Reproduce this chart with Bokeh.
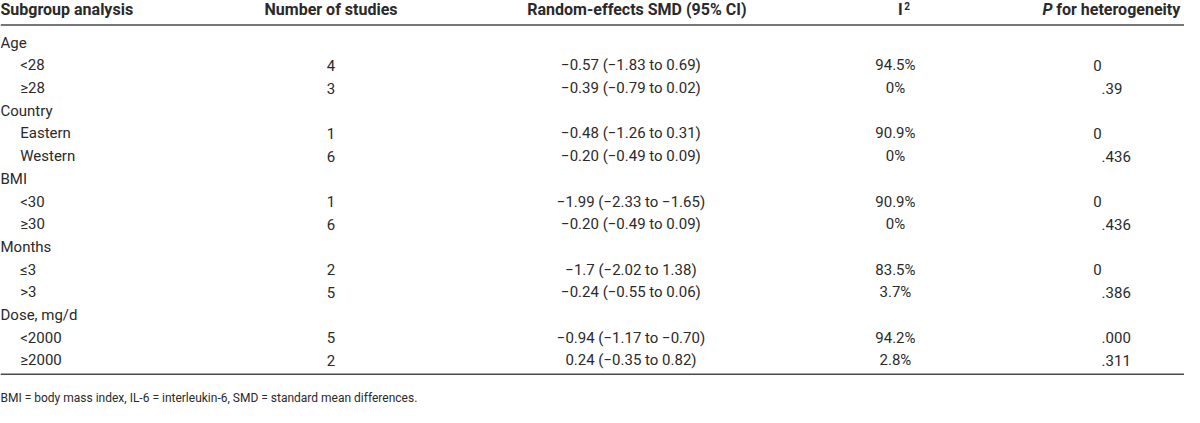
from bokeh.plotting import figure
from bokeh.models import ColumnDataSource, Range1d
from bokeh.core.properties import value
from bokeh.embed import file_html
from bokeh.resources import INLINE

# ---------------- data ----------------
subgroups = ["Age", "<28", "≥28", "Country", "Eastern", "Western", "BMI", "<30", "≥30",
             "Months", "≤3", ">3", "Dose, mg/d", "<2000", "≥2000"]
levels = [0, 1, 1, 0, 1, 1, 0, 1, 1, 0, 1, 1, 0, 1, 1]
n_studies = ["", "4", "3", "", "1", "6", "", "1", "6", "", "2", "5", "", "5", "2"]
smd_ci = ["", "−0.57 (−1.83 to 0.69)", "−0.39 (−0.79 to 0.02)", "",
          "−0.48 (−1.26 to 0.31)", "−0.20 (−0.49 to 0.09)", "",
          "−1.99 (−2.33 to −1.65)", "−0.20 (−0.49 to 0.09)", "",
          "−1.7 (−2.02 to 1.38)", "−0.24 (−0.55 to 0.06)", "",
          "−0.94 (−1.17 to −0.70)", "0.24 (−0.35 to 0.82)"]
i2 = ["", "94.5%", "0%", "", "90.9%", "0%", "", "90.9%", "0%", "", "83.5%", "3.7%", "",
      "94.2%", "2.8%"]
p_het = ["", "0", ".39", "", "0", ".436", "", "0", ".436", "", "0", ".386", "", ".000", ".311"]
footnote = "BMI = body mass index, IL-6 = interleukin-6, SMD = standard mean differences."

# ---------------- layout ----------------
W, H = 1200, 423
FONT = "Roboto"
TXT = "#2a2a2a"
FS = "15px"
HFS = "16px"

p = figure(width=1184, height=407, output_backend="svg", toolbar_location=None,
           x_range=Range1d(0, W), y_range=Range1d(H - 4, 4), min_border=0)
p.axis.visible = False
p.grid.visible = False
p.outline_line_color = None
p.background_fill_color = "white"
p.border_fill_color = "white"

row_y0, row_dy = 47, 23.14
ys = [row_y0 + i * row_dy for i in range(len(subgroups))]
xs_label = [0 + 20 * lv for lv in levels]

common = dict(text_font=value(FONT), text_font_size=FS, text_color=TXT,
              text_baseline="middle")

src = ColumnDataSource(dict(x=xs_label, y=ys, t=subgroups))
p.text(x="x", y="y", text="t", source=src, text_align="left", **common)

for col, xc in [(n_studies, 335), (smd_ci, 639), (i2, 907)]:
    s = ColumnDataSource(dict(x=[xc] * len(col), y=ys, t=col))
    p.text(x="x", y="y", text="t", source=s, text_align="center", **common)

# P column: decimal aligned
dec_x = 1116
int_part = [v.split(".")[0] if "." in v else v for v in p_het]
frac_part = ["." + v.split(".")[1] if "." in v else "" for v in p_het]
s_int = ColumnDataSource(dict(x=[dec_x] * len(p_het), y=ys, t=int_part))
s_frac = ColumnDataSource(dict(x=[dec_x] * len(p_het), y=ys, t=frac_part))
p.text(x="x", y="y", text="t", source=s_int, text_align="right", **common)
p.text(x="x", y="y", text="t", source=s_frac, text_align="left", **common)

# header
hy = 13
hdr = dict(text_font=value(FONT), text_font_size=HFS, text_color=TXT,
           text_baseline="middle", text_font_style="bold")
p.text(x=[0], y=[hy], text=["Subgroup analysis"], text_align="left", **hdr)
p.text(x=[335], y=[hy], text=["Number of studies"], text_align="center", **hdr)
p.text(x=[645], y=[hy], text=["Random-effects SMD (95% CI)"], text_align="center", **hdr)
p.text(x=[912], y=[hy], text=["I"], text_align="center", **hdr)
p.text(x=[916], y=[10], text=["2"], text_align="left",
       text_font=value(FONT), text_font_size="10px", text_color=TXT,
       text_baseline="middle", text_font_style="bold")
p.text(x=[1056], y=[hy], text=["P"], text_align="left",
       text_font=value(FONT), text_font_size=HFS, text_color=TXT,
       text_baseline="middle", text_font_style="bold italic")
p.text(x=[1070], y=[hy], text=["for heterogeneity"], text_align="left", **hdr)

# rules
p.segment(x0=[0, 0], y0=[29, 385], x1=[W, W], y1=[29, 385], line_color="#4a4a4a",
          line_width=1.5)

# footnote
p.text(x=[0], y=[409], text=[footnote], text_align="left", text_font=value(FONT),
       text_font_size="12px", text_color=TXT, text_baseline="middle")

open("out.html", "w").write(file_html(p, INLINE))
